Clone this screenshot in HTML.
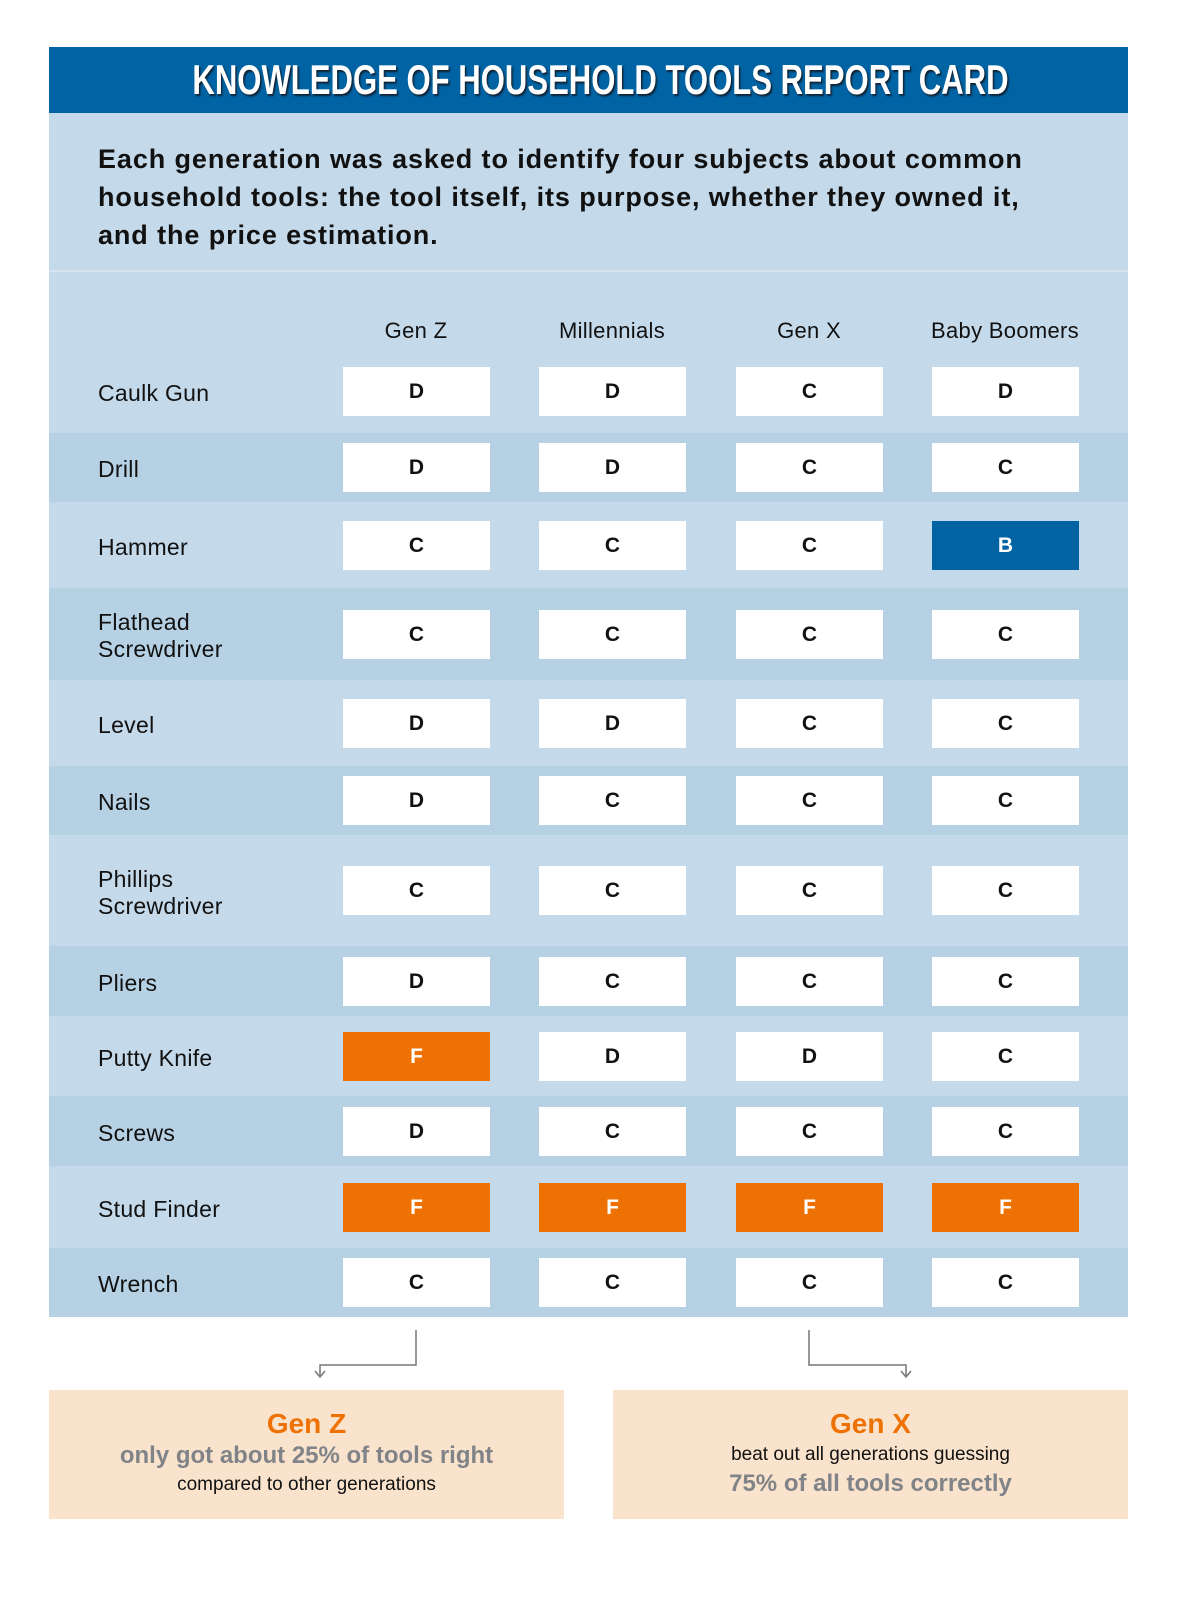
<!DOCTYPE html>
<html><head><meta charset="utf-8"><style>
html,body{margin:0;width:1201px;height:1600px;background:#fff;overflow:hidden}
body{position:relative;font-family:"Liberation Sans",sans-serif}
.abs{position:absolute}
#hdr{left:49px;top:47px;width:1079px;height:66px;background:#0063a3}
#title{left:0;top:0;width:1079px;height:66px;line-height:66px;text-align:center;color:#fff;white-space:nowrap}
#title span{display:inline-block;font-weight:bold;font-size:42px;transform:scaleX(0.74);transform-origin:center;text-shadow:2px 2px 2px #123}
#intro{left:49px;top:113px;width:1079px;height:157px;background:#c4d9ea}
#introtext{left:98px;top:140px;width:945px;font-size:27px;letter-spacing:0.9px;line-height:38px;color:#111;font-weight:bold}
.band{position:absolute;left:49px;width:1079px}
.lbl{position:absolute;left:98px;font-size:23px;color:#111;line-height:27px;letter-spacing:0.3px}
.cell{position:absolute;width:147px;height:49px;background:#fff;text-align:center;line-height:49px;font-weight:bold;font-size:21px;color:#111}
.colh{position:absolute;top:318px;width:200px;text-align:center;font-size:22px;color:#111;z-index:2;letter-spacing:0.3px}
.box{position:absolute;top:1390px;width:515px;height:129px;background:#fae3cc;text-align:center}
</style></head><body>
<div id="hdr" class="abs"><div id="title" class="abs"><span>KNOWLEDGE OF HOUSEHOLD TOOLS REPORT CARD</span></div></div>
<div id="intro" class="abs"></div>
<div id="introtext" class="abs">Each generation was asked to identify four subjects about common household tools: the tool itself, its purpose, whether they owned it, and the price estimation.</div>
<div id="table"></div>
<div class="abs" style="left:49px;top:270px;width:1079px;height:2px;background:#d6e5f1"></div>
<svg class="abs" style="left:0;top:0" width="1201" height="1600">
<polyline points="416,1330 416,1365 320,1365 320,1377" fill="none" stroke="#777" stroke-width="1.5"/>
<polyline points="315,1371 320,1377 325,1371" fill="none" stroke="#777" stroke-width="1.5"/>
<polyline points="809,1330 809,1365 906,1365 906,1377" fill="none" stroke="#777" stroke-width="1.5"/>
<polyline points="901,1371 906,1377 911,1371" fill="none" stroke="#777" stroke-width="1.5"/>
</svg>
<div class="box" style="left:49px">
<div style="margin-top:18px;font-size:28px;font-weight:bold;color:#ee7203">Gen Z</div>
<div style="font-size:24px;font-weight:bold;color:#808388;margin-top:2px">only got about 25% of tools right</div>
<div style="font-size:19px;color:#111;margin-top:4px">compared to other generations</div></div>
<div class="box" style="left:613px">
<div style="margin-top:18px;font-size:28px;font-weight:bold;color:#ee7203">Gen X</div>
<div style="font-size:19px;color:#111;margin-top:4px">beat out all generations guessing</div>
<div style="font-size:24px;font-weight:bold;color:#808388;margin-top:4px">75% of all tools correctly</div></div>
<script>
const generations=["Gen Z","Millennials","Gen X","Baby Boomers"];
const tools=["Caulk Gun","Drill","Hammer","Flathead<br>Screwdriver","Level","Nails","Phillips<br>Screwdriver","Pliers","Putty Knife","Screws","Stud Finder","Wrench"];
const genZ=["D","D","C","C","D","D","C","D","F","D","F","C"];
const millennials=["D","D","C","C","D","C","C","C","D","C","F","C"];
const genX=["C","C","C","C","C","C","C","C","D","C","F","C"];
const boomers=["D","C","B","C","C","C","C","C","C","C","F","C"];
const series=[genZ,millennials,genX,boomers];
const bandEdges=[272,433,502,588,680,766,835,946,1016,1096,1166,1248,1317];
const colX=[343,539,736,932];
const t=document.getElementById('table');
tools.forEach((tool,r)=>{
 const top=bandEdges[r],bot=bandEdges[r+1];
 const b=document.createElement('div');b.className='band';b.style.top=top+'px';b.style.height=(bot-top)+'px';b.style.background=r%2?'#b6d1e4':'#c4d9ea';
 
 
 t.appendChild(b);
 const cy=r===0?391:(top+bot)/2;
 const l=document.createElement('div');l.className='lbl';l.innerHTML=tool;
 const lines=tool.includes('<br>')?2:1;l.style.top=(cy-lines*13.5+2)+'px';
 
 
 t.appendChild(l);
 series.forEach((s,c)=>{const g=s[r];const e=document.createElement('div');e.className='cell';
  e.style.left=colX[c]+'px';e.style.top=(cy-24.5)+'px';e.textContent=g;
  if(g==='F'){e.style.background='#ee7203';e.style.color='#fff';}
  if(g==='B'){e.style.background='#0063a3';e.style.color='#fff';}
  
  
  t.appendChild(e);});
});
generations.forEach((g,i)=>{const d=document.createElement('div');d.className='colh';d.style.left=(colX[i]+73-100)+'px';d.textContent=g;


t.appendChild(d);});
</script>
</body></html>
